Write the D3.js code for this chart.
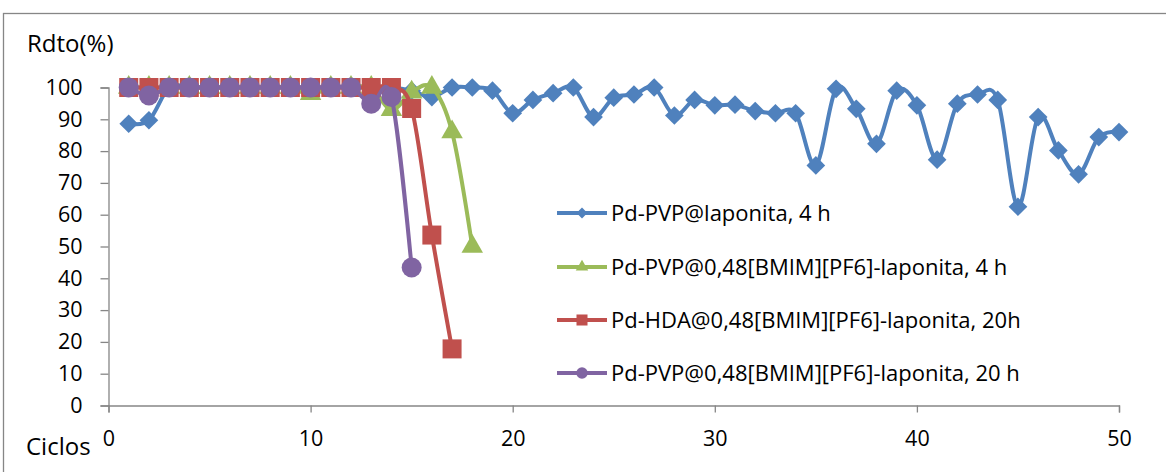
<!DOCTYPE html>
<html>
<head>
<meta charset="utf-8">
<script src="https://cdn.jsdelivr.net/npm/d3@7"></script>
<style>
  html, body { margin: 0; padding: 0; background: #fff; }
  svg { display: block; }
  text { font-family: "Open Sans", sans-serif; fill: #000; }
</style>
</head>
<body>
<svg id="chart" width="1166" height="472"></svg>
<script>
// ---- data ----
const cyclesBlue = [1,2,3,4,5,6,7,8,9,10,11,12,13,14,15,16,17,18,19,20,21,22,23,24,25,26,27,28,29,30,31,32,33,34,35,36,37,38,39,40,41,42,43,44,45,46,47,48,49,50];
const blueValues = [88.6,89.7,100,100,100,100,100,100,100,100,100,100,100,100,99,97,100,100,99,91.9,96.1,98.2,100,90.7,96.8,97.8,100,91.2,96.1,94.4,94.6,92.6,91.9,91.9,75.5,99.6,93.3,82.3,99,94.4,77.3,94.9,97.8,96.1,62.5,90.7,80.2,72.7,84.4,86];

const cyclesGreen = [1,2,3,4,5,6,7,8,9,10,11,12,13,14,15,16,17,18];
const greenValues = [100,100,100,100,100,100,100,100,100,98,100,100,100,93,98.5,100,86,50];

const cyclesRed = [1,2,3,4,5,6,7,8,9,10,11,12,13,14,15,16,17];
const redValues = [100,100,100,100,100,100,100,100,100,100,100,100,100,100,93.4,53.6,17.8];

const cyclesPurple = [1,2,3,4,5,6,7,8,9,10,11,12,13,14,15];
const purpleValues = [100,97.5,100,100,100,100,100,100,100,100,100,100,94.9,97,43.4];

const seriesNames = [
  "Pd-PVP@laponita, 4 h",
  "Pd-PVP@0,48[BMIM][PF6]-laponita, 4 h",
  "Pd-HDA@0,48[BMIM][PF6]-laponita, 20h",
  "Pd-PVP@0,48[BMIM][PF6]-laponita, 20 h"
];
const seriesColors = ["#4F81BD", "#9BBB59", "#C0504D", "#8064A2"];
const seriesMarkers = ["diamond", "triangle", "square", "circle"];

const xTickValues = [0,10,20,30,40,50];
const yTickValues = [0,10,20,30,40,50,60,70,80,90,100];
const yAxisTitle = "Rdto(%)";
const xAxisTitle = "Ciclos";

// ---- layout ----
const svg = d3.select("#chart");
const x = d3.scaleLinear().domain([0, 50]).range([108.5, 1119]);
const y = d3.scaleLinear().domain([0, 100]).range([405.5, 87.5]);
const axisColor = "#868686";

// outer frame
svg.append("rect")
  .attr("x", 3.5).attr("y", 13.5).attr("width", 1300).attr("height", 600)
  .attr("fill", "none").attr("stroke", axisColor).attr("stroke-width", 1.3);

// axes
const yAxis = d3.axisLeft(y).tickValues(yTickValues).tickSize(8).tickPadding(18);
const gy = svg.append("g").attr("transform", `translate(${x(0)},0)`).call(yAxis);
gy.select(".domain").attr("stroke", axisColor).attr("stroke-width", 1.3);
gy.selectAll(".tick line").attr("stroke", axisColor).attr("stroke-width", 1.3);
gy.selectAll(".tick text").attr("font-size", 21.5).attr("font-family", "Open Sans").attr("fill", "#000");

const xAxis = d3.axisBottom(x).tickValues(xTickValues).tickSize(7).tickPadding(18);
const gx = svg.append("g").attr("transform", `translate(0,${y(0)})`).call(xAxis);
gx.select(".domain").attr("stroke", axisColor).attr("stroke-width", 1.3);
gx.selectAll(".tick line").attr("stroke", axisColor).attr("stroke-width", 1.3);
gx.selectAll(".tick text").attr("font-size", 21.5).attr("font-family", "Open Sans").attr("fill", "#000");

svg.append("text").attr("x", 27).attr("y", 52).attr("font-size", 24).text(yAxisTitle);
svg.append("text").attr("x", 26).attr("y", 455).attr("font-size", 24).text(xAxisTitle);

// ---- series ----
function markerPath(type, big) {
  const s = big ? 1 : 0.58;
  if (type === "diamond") return d3.symbol(d3.symbolSquare, 175 * s * s)();
  if (type === "triangle") return d3.symbol(d3.symbolTriangle, 200 * s * s)();
  if (type === "square") return d3.symbol(d3.symbolSquare, 361 * s * s)();
  return d3.symbol(d3.symbolCircle, 314 * s * s)();
}

const allSeries = [
  { xs: cyclesBlue, ys: blueValues },
  { xs: cyclesGreen, ys: greenValues },
  { xs: cyclesRed, ys: redValues },
  { xs: cyclesPurple, ys: purpleValues }
];

const line = d3.line()
  .x(d => x(d[0])).y(d => y(d[1]))
  .curve(d3.curveCardinal.tension(0));

allSeries.forEach((s, i) => {
  const pts = s.xs.map((c, k) => [c, s.ys[k]]);
  const g = svg.append("g");
  g.append("path").datum(pts)
    .attr("d", line)
    .attr("fill", "none")
    .attr("stroke", seriesColors[i])
    .attr("stroke-width", 4)
    .attr("stroke-linejoin", "round");
  g.selectAll("path.mk").data(pts).enter().append("path")
    .attr("class", "mk")
    .attr("d", markerPath(seriesMarkers[i], true))
    .attr("transform", d => `translate(${x(d[0])},${y(d[1])})` + (seriesMarkers[i] === "diamond" ? " rotate(45)" : ""))
    .attr("fill", seriesColors[i]);
});

// ---- legend ----
const legendRows = [213, 267, 320, 373];
seriesNames.forEach((name, i) => {
  const g = svg.append("g").attr("transform", `translate(0,${legendRows[i]})`);
  g.append("line").attr("x1", 557).attr("x2", 607).attr("y1", 0).attr("y2", 0)
    .attr("stroke", seriesColors[i]).attr("stroke-width", 4);
  g.append("path")
    .attr("d", markerPath(seriesMarkers[i], false))
    .attr("transform", `translate(582,0)` + (seriesMarkers[i] === "diamond" ? " rotate(45)" : ""))
    .attr("fill", seriesColors[i]);
  g.append("text").attr("x", 611).attr("y", 8).attr("font-size", 22).text(name);
});
</script>
</body>
</html>
